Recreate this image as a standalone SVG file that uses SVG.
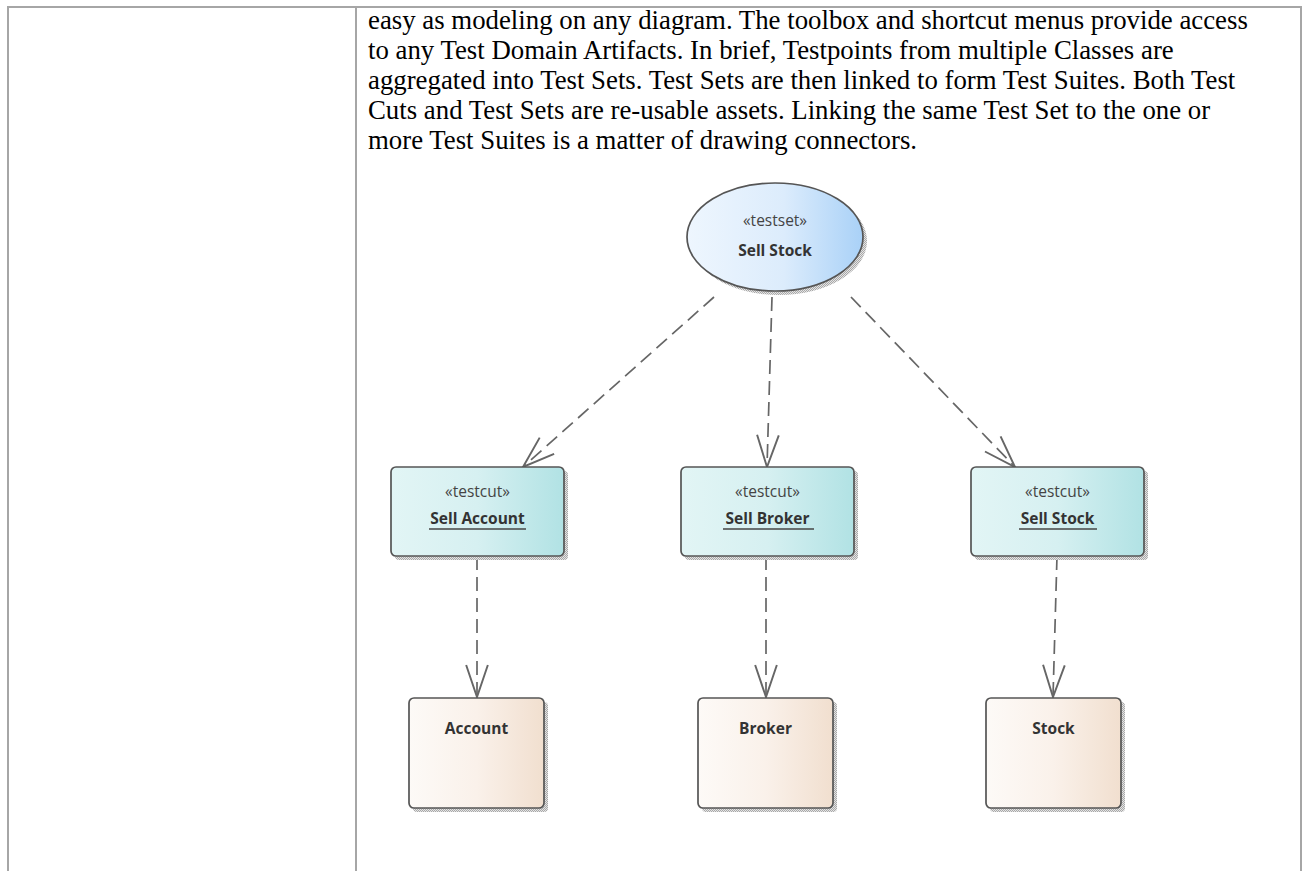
<svg xmlns="http://www.w3.org/2000/svg" width="1305" height="871" viewBox="0 0 1305 871">
<style>
.para{font-family:"Liberation Serif","Times New Roman",serif;font-size:26.8px;fill:#000}
.st{font-family:"Open Sans","Noto Sans",sans-serif;font-size:15.5px;fill:#444}
.nm{font-family:"Open Sans","Noto Sans",sans-serif;font-size:15.5px;font-weight:bold;fill:#333}
.box{stroke:#555;stroke-width:1.7}
.conn{fill:none;stroke:#666;stroke-width:1.7;stroke-dasharray:14 7}
.grid{stroke:#a6a6a6;stroke-width:2;fill:none}
</style>
<defs>
<linearGradient id="gSet" x1="0" y1="0" x2="1" y2="0"><stop offset="0" stop-color="#eef6fe"/><stop offset="0.55" stop-color="#dcecfc"/><stop offset="1" stop-color="#a9d1f7"/></linearGradient>
<linearGradient id="gCut" x1="0" y1="0" x2="1" y2="0"><stop offset="0" stop-color="#e2f5f5"/><stop offset="0.5" stop-color="#d6f0f1"/><stop offset="1" stop-color="#b1e2e4"/></linearGradient>
<linearGradient id="gCls" x1="0" y1="0" x2="1" y2="0"><stop offset="0" stop-color="#fdfaf7"/><stop offset="0.5" stop-color="#faf1ea"/><stop offset="1" stop-color="#f1dfcf"/></linearGradient>
<pattern id="chk" width="2" height="2" patternUnits="userSpaceOnUse"><rect width="2" height="2" fill="#e4e4e4"/><rect width="1" height="1" fill="#a8a8a8"/><rect x="1" y="1" width="1" height="1" fill="#a8a8a8"/></pattern>
<marker id="arr" markerUnits="userSpaceOnUse" markerWidth="40" markerHeight="40" refX="0" refY="0" viewBox="-30 -15 35 30" orient="auto" overflow="visible"><path d="M-28,-9.5 L0,0 L-28,9.5" fill="none" stroke="#666" stroke-width="1.7"/></marker>
</defs>
<rect width="1305" height="871" fill="#fff"/>
<g id="table">
<line class="grid" x1="7" y1="7" x2="1302" y2="7"/>
<line class="grid" x1="8" y1="6" x2="8" y2="871"/>
<line class="grid" x1="356" y1="6" x2="356" y2="871"/>
<line class="grid" x1="1301" y1="6" x2="1301" y2="871"/>
</g>
<g id="text">
<text class="para" x="368" y="29">easy as modeling on any diagram. The toolbox and shortcut menus provide access</text>
<text class="para" x="368" y="59">to any Test Domain Artifacts. In brief, Testpoints from multiple Classes are</text>
<text class="para" x="368" y="89">aggregated into Test Sets. Test Sets are then linked to form Test Suites. Both Test</text>
<text class="para" x="368" y="119">Cuts and Test Sets are re-usable assets. Linking the same Test Set to the one or</text>
<text class="para" x="368" y="149">more Test Suites is a matter of drawing connectors.</text>
</g>
<g id="connectors">
<line class="conn" x1="714" y1="297" x2="523" y2="467" marker-end="url(#arr)"/>
<line class="conn" x1="772" y1="297" x2="767" y2="467" marker-end="url(#arr)"/>
<line class="conn" x1="851" y1="297" x2="1015" y2="467" marker-end="url(#arr)"/>
<line class="conn" x1="477" y1="556" x2="477" y2="697" marker-end="url(#arr)"/>
<line class="conn" x1="766" y1="556" x2="766" y2="697" marker-end="url(#arr)"/>
<line class="conn" x1="1057" y1="556" x2="1053" y2="697" marker-end="url(#arr)"/>
</g>
<g id="testset">
<ellipse cx="779" cy="241" rx="88" ry="54" fill="url(#chk)"/>
<ellipse class="box" cx="775" cy="237" rx="88" ry="54" fill="url(#gSet)"/>
<text class="st" x="775" y="226" text-anchor="middle">«testset»</text>
<text class="nm" x="775" y="256" text-anchor="middle">Sell Stock</text>
</g>
<g id="cut-account">
<rect x="395" y="471" width="173" height="89" rx="4" fill="url(#chk)"/>
<rect class="box" x="391" y="467" width="173" height="89" rx="5" fill="url(#gCut)"/>
<text class="st" x="477.5" y="497" text-anchor="middle">«testcut»</text>
<text class="nm" x="477.5" y="524" text-anchor="middle">Sell Account</text>
<line x1="429" y1="529" x2="526" y2="529" stroke="#444" stroke-width="1.5"/>
</g>
<g id="cut-broker">
<rect x="685" y="471" width="173" height="89" rx="4" fill="url(#chk)"/>
<rect class="box" x="681" y="467" width="173" height="89" rx="5" fill="url(#gCut)"/>
<text class="st" x="767.5" y="497" text-anchor="middle">«testcut»</text>
<text class="nm" x="767.5" y="524" text-anchor="middle">Sell Broker</text>
<line x1="723" y1="529" x2="814" y2="529" stroke="#444" stroke-width="1.5"/>
</g>
<g id="cut-stock">
<rect x="975" y="471" width="173" height="89" rx="4" fill="url(#chk)"/>
<rect class="box" x="971" y="467" width="173" height="89" rx="5" fill="url(#gCut)"/>
<text class="st" x="1057.5" y="497" text-anchor="middle">«testcut»</text>
<text class="nm" x="1057.5" y="524" text-anchor="middle">Sell Stock</text>
<line x1="1019" y1="529" x2="1097" y2="529" stroke="#444" stroke-width="1.5"/>
</g>
<g id="account">
<rect x="413" y="702" width="135" height="110" rx="4" fill="url(#chk)"/>
<rect class="box" x="409" y="698" width="135" height="110" rx="5" fill="url(#gCls)"/>
<text class="nm" x="476.5" y="734" text-anchor="middle">Account</text>
</g>
<g id="broker">
<rect x="702" y="702" width="135" height="110" rx="4" fill="url(#chk)"/>
<rect class="box" x="698" y="698" width="135" height="110" rx="5" fill="url(#gCls)"/>
<text class="nm" x="765.5" y="734" text-anchor="middle">Broker</text>
</g>
<g id="stock">
<rect x="990" y="702" width="135" height="110" rx="4" fill="url(#chk)"/>
<rect class="box" x="986" y="698" width="135" height="110" rx="5" fill="url(#gCls)"/>
<text class="nm" x="1053.5" y="734" text-anchor="middle">Stock</text>
</g>
</svg>
